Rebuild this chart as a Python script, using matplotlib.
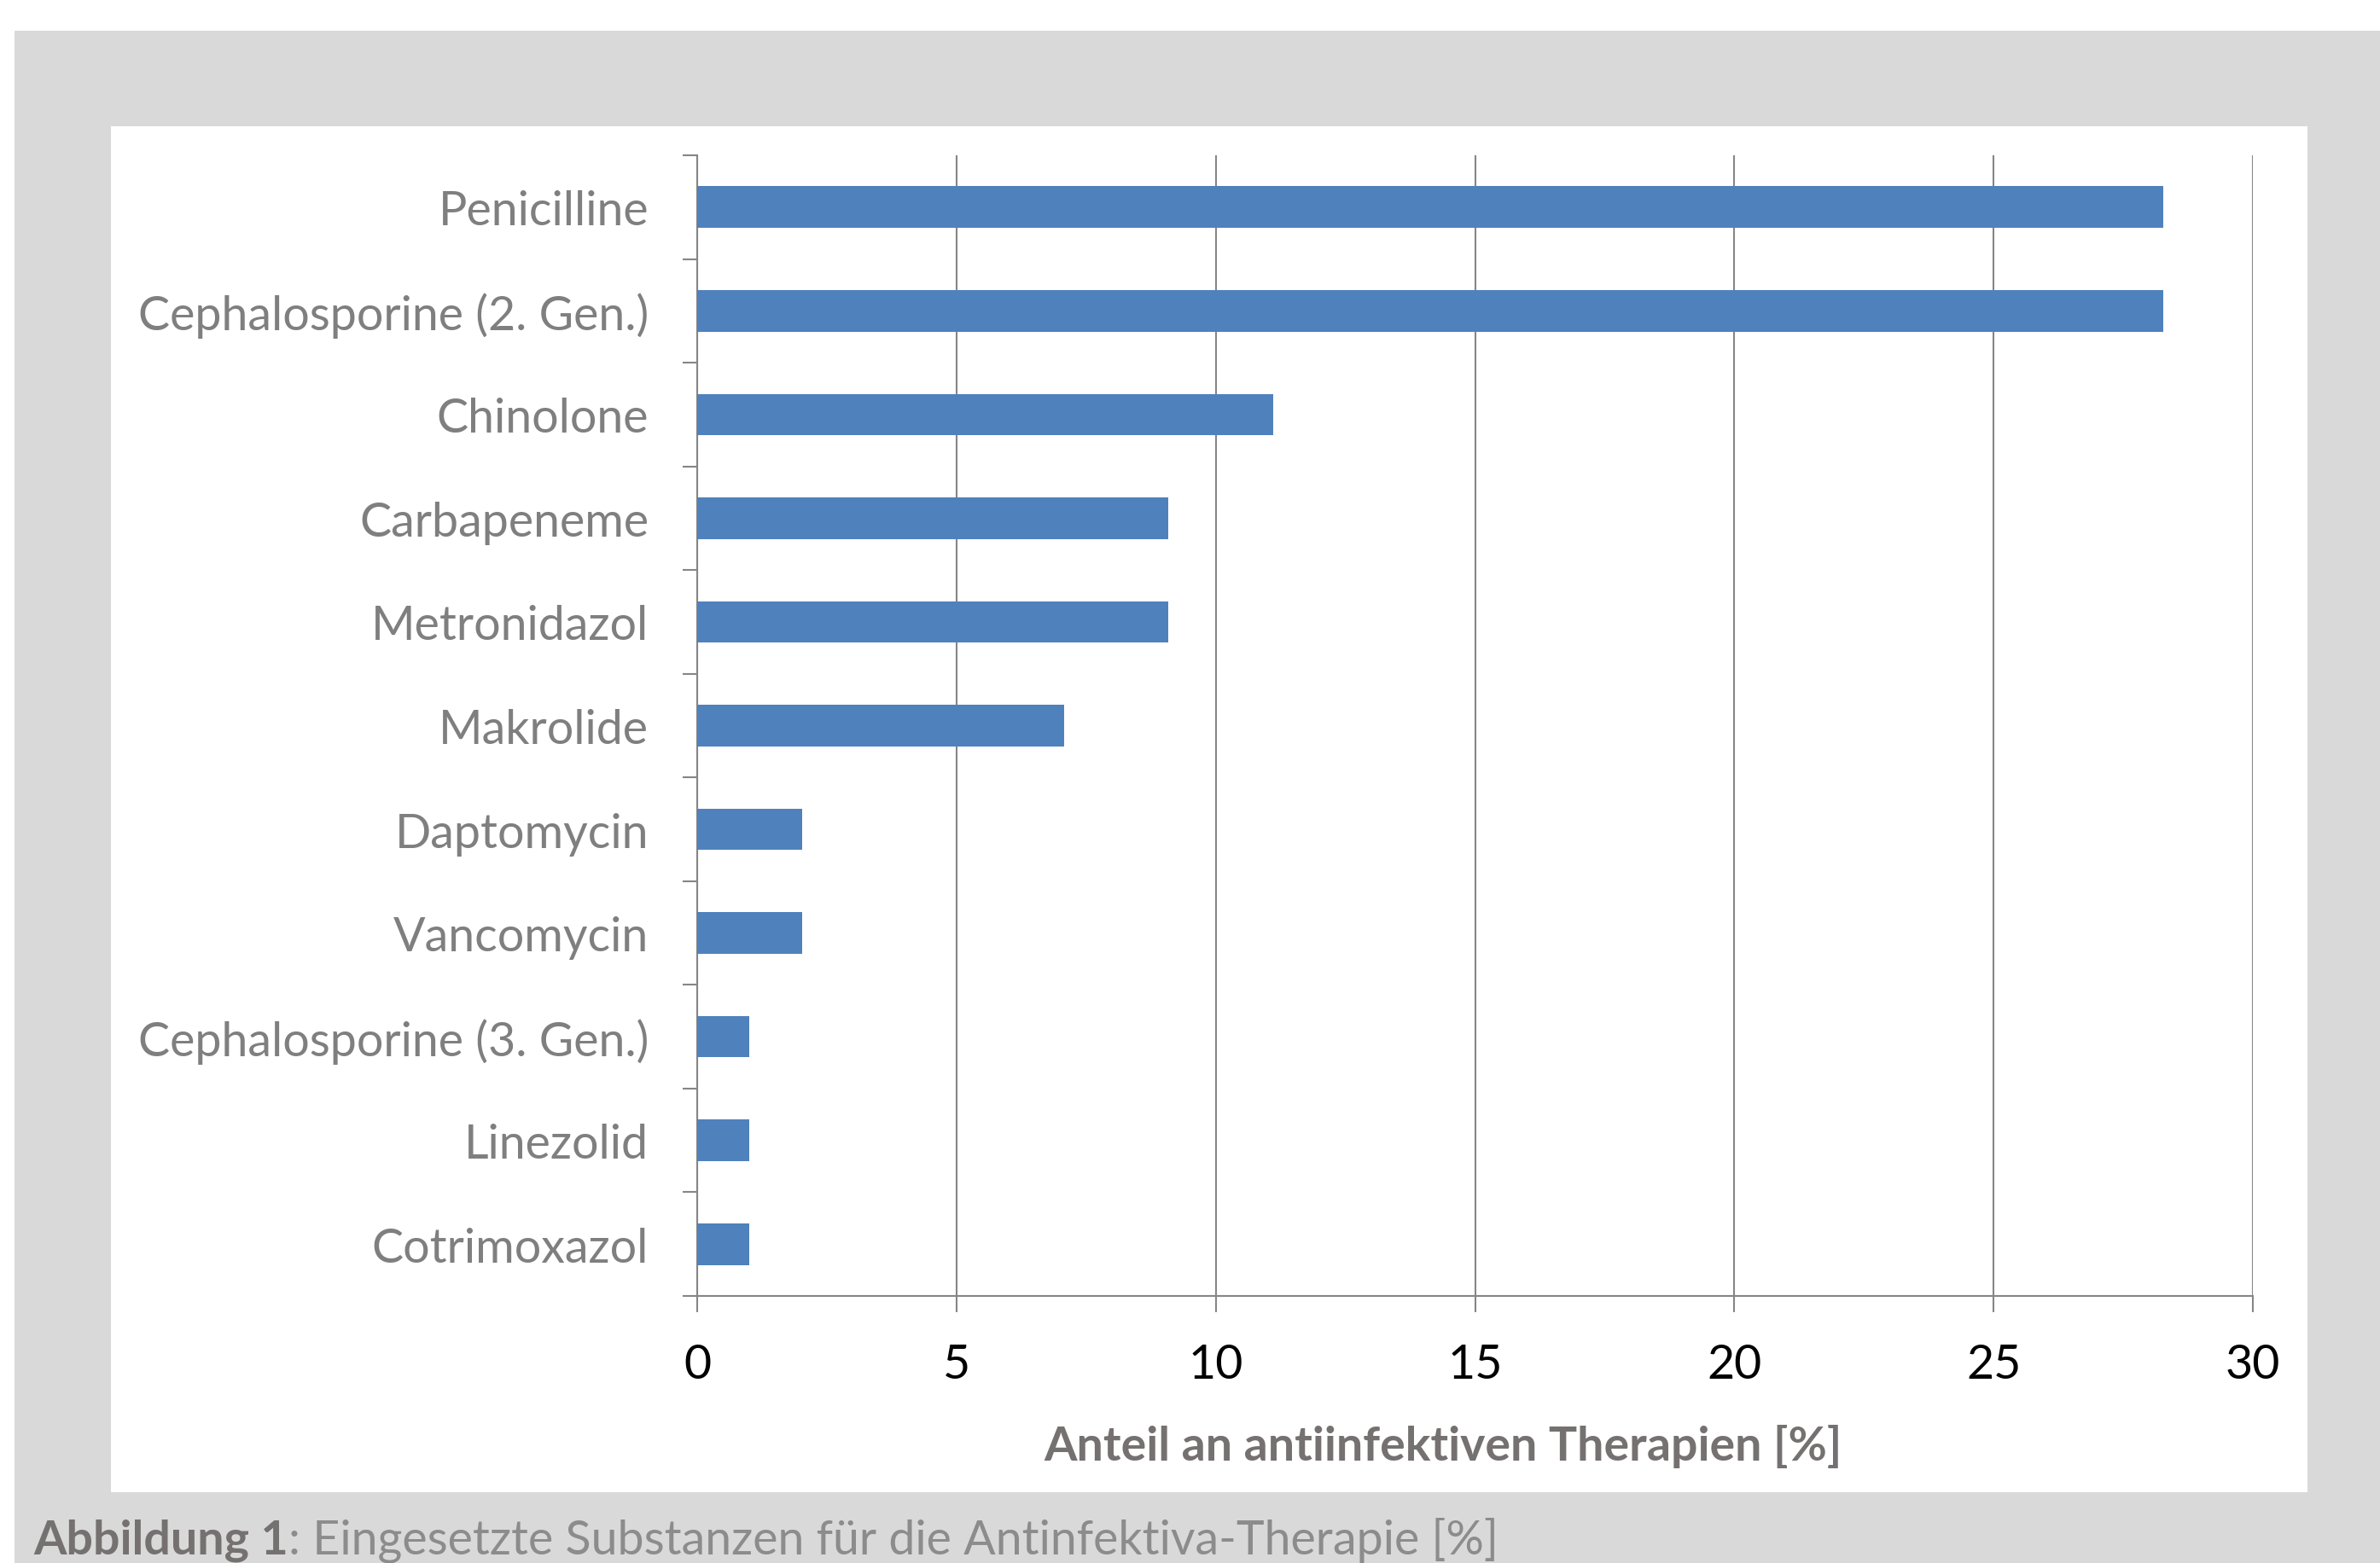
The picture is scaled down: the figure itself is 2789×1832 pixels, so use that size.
import matplotlib
matplotlib.use("Agg")
import matplotlib.pyplot as plt
from matplotlib.patches import Rectangle

substances = ["Penicilline", "Cephalosporine (2. Gen.)", "Chinolone", "Carbapeneme",
              "Metronidazol", "Makrolide", "Daptomycin", "Vancomycin",
              "Cephalosporine (3. Gen.)", "Linezolid", "Cotrimoxazol"]
shares = [28.28, 28.28, 11.11, 9.09, 9.09, 7.07, 2.02, 2.02, 1.01, 1.01, 1.01]
xticks = [0, 5, 10, 15, 20, 25, 30]

plt.rcParams['font.family'] = ['Lato', 'DejaVu Sans']

W, H = 2789, 1833
fig = plt.figure(figsize=(W / 100, H / 100), dpi=100)
fig.patch.set_facecolor('white')

# grey frame and white chart area
fig.add_artist(Rectangle((17 / W, 0), 1 - 17 / W, 1 - 37 / H,
                         transform=fig.transFigure, facecolor='#d9d9d9', edgecolor='none', zorder=0))
fig.add_artist(Rectangle((130 / W, 1 - 1750 / H), (2704 - 130) / W, (1750 - 149) / H,
                         transform=fig.transFigure, facecolor='white', edgecolor='none', zorder=0))

ax = fig.add_axes([817 / W, 1 - 1520 / H, (2640 - 817) / W, (1520 - 183) / H])
ax.set_facecolor('none')

grid_c = '#868686'
fs = 40
ypos = list(range(len(substances)))
ax.barh(ypos, shares, height=0.4, color='#4f81bd', zorder=3)

ax.set_xlim(0, 30)
ax.set_ylim(len(substances) - 0.5, -0.5)
ax.set_xticks(xticks)
ax.set_xticklabels([str(t) for t in xticks], fontsize=fs, color='black')
ax.set_yticks(ypos)
ax.set_yticklabels(substances, fontsize=fs, color='#7f7f7f')
ax.set_yticks([i - 0.5 for i in range(len(substances) + 1)], minor=True)

ax.tick_params(axis='y', which='major', length=0, pad=41)
ax.tick_params(axis='y', which='minor', length=12, width=1.5, color=grid_c, direction='out')
ax.tick_params(axis='x', which='major', length=13.5, width=1.5, color=grid_c, direction='out', pad=26)

ax.xaxis.grid(True, color=grid_c, linewidth=1.5, zorder=0)
for s in ['top', 'right']:
    ax.spines[s].set_visible(False)
for s in ['left', 'bottom']:
    ax.spines[s].set_color(grid_c)
    ax.spines[s].set_linewidth(1.5)

fig.text(1691 / W, 1 - 1712 / H, "Anteil an antiinfektiven Therapien [%]", fontsize=fs,
         fontweight='bold', color='#767171', ha='center', va='baseline')

cap_y = 1 - 1822 / H
cap = fig.text(39 / W, cap_y, "Abbildung 1", fontsize=fs, fontweight='bold',
               color='#767171', ha='left', va='baseline')
fig.canvas.draw()
bb = cap.get_window_extent()
fig.text(bb.x1 / W, cap_y, ": Eingesetzte Substanzen für die Antinfektiva-Therapie [%]",
         fontsize=fs, color='#8c8c8c', ha='left', va='baseline')

fig.savefig('out.png', dpi=100)
